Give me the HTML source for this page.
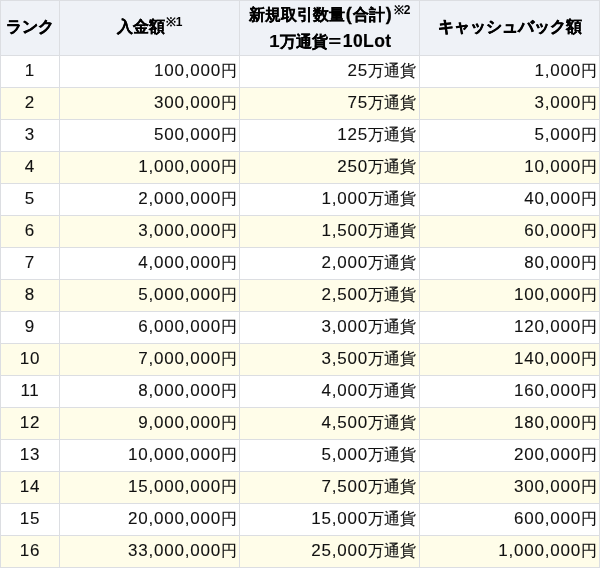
<!DOCTYPE html><html><head><meta charset="utf-8"><style>
html,body{margin:0;padding:0;}
body{width:600px;height:568px;overflow:hidden;position:relative;background:#fff;font-family:"Liberation Sans",sans-serif;}
.r{position:absolute;left:0;width:600px;}
.c{position:absolute;display:flex;align-items:center;white-space:nowrap;will-change:transform;}
.h{font-weight:bold;color:#000;font-size:16px;justify-content:center;text-align:center;}
.b{color:#111;-webkit-text-stroke:0.1px;}
.b .n{font-size:17px;letter-spacing:0.8px;position:relative;top:-1px;}
.b .j{font-size:15.5px;}
.b .yen{margin-right:-1px;font-size:16px;}
.ctr{justify-content:center;}
.rt{justify-content:flex-end;}
.vl{position:absolute;top:0;width:1px;height:568px;background:#dcdee2;}
.hl{position:absolute;left:0;height:1px;width:600px;background:#dcdee2;}
.hj{-webkit-text-stroke:0.2px;}
.hk{-webkit-text-stroke:0.5px;}
.hp{margin:0 1px;font-size:18px;display:inline-block;transform:scaleY(1.0);-webkit-text-stroke:0.3px;}
.hn{letter-spacing:0.4px;font-size:17.5px;-webkit-text-stroke:0.2px;}
.hn1{display:inline-block;transform:scaleX(1.2);margin:0 2px 0 0;}
.heq{display:inline-block;transform:scaleX(1.4);margin:0 3px 0 2px;}
.sup{font-size:12px;position:relative;top:-6px;margin-left:1px;}

</style></head><body>
<div class="r" style="top:0;height:55px;background:#eff2f7"></div>
<div class="r" style="top:56px;height:31px;background:#ffffff"></div>
<div class="r" style="top:88px;height:31px;background:#fffde9"></div>
<div class="r" style="top:120px;height:31px;background:#ffffff"></div>
<div class="r" style="top:152px;height:31px;background:#fffde9"></div>
<div class="r" style="top:184px;height:31px;background:#ffffff"></div>
<div class="r" style="top:216px;height:31px;background:#fffde9"></div>
<div class="r" style="top:248px;height:31px;background:#ffffff"></div>
<div class="r" style="top:280px;height:31px;background:#fffde9"></div>
<div class="r" style="top:312px;height:31px;background:#ffffff"></div>
<div class="r" style="top:344px;height:31px;background:#fffde9"></div>
<div class="r" style="top:376px;height:31px;background:#ffffff"></div>
<div class="r" style="top:408px;height:31px;background:#fffde9"></div>
<div class="r" style="top:440px;height:31px;background:#ffffff"></div>
<div class="r" style="top:472px;height:31px;background:#fffde9"></div>
<div class="r" style="top:504px;height:31px;background:#ffffff"></div>
<div class="r" style="top:536px;height:31px;background:#fffde9"></div>
<div class="vl" style="left:0px"></div>
<div class="vl" style="left:59px"></div>
<div class="vl" style="left:239px"></div>
<div class="vl" style="left:419px"></div>
<div class="vl" style="left:599px"></div>
<div class="hl" style="top:0px"></div>
<div class="hl" style="top:55px"></div>
<div class="hl" style="top:87px"></div>
<div class="hl" style="top:119px"></div>
<div class="hl" style="top:151px"></div>
<div class="hl" style="top:183px"></div>
<div class="hl" style="top:215px"></div>
<div class="hl" style="top:247px"></div>
<div class="hl" style="top:279px"></div>
<div class="hl" style="top:311px"></div>
<div class="hl" style="top:343px"></div>
<div class="hl" style="top:375px"></div>
<div class="hl" style="top:407px"></div>
<div class="hl" style="top:439px"></div>
<div class="hl" style="top:471px"></div>
<div class="hl" style="top:503px"></div>
<div class="hl" style="top:535px"></div>
<div class="hl" style="top:567px"></div>
<div class="c h" style="left:1px;top:0px;width:58px;height:54px"><span class="hk">ランク</span></div>
<div class="c h" style="left:60px;top:0px;width:179px;height:54px"><span class="hj">入金額</span><span class="sup">※1</span></div>
<div class="c h" style="left:240px;top:1px;width:179px;height:54px"><div style="line-height:26px"><span class="hj">新規取引数量</span><span class="hp">(</span><span class="hj">合計</span><span class="hp">)</span><span class="sup">※2</span><br><span style="position:relative;left:1px;top:-1px"><span class="hn1">1</span><span class="hj">万通貨</span><span class="heq">=</span><span class="hn">10Lot</span></span></div></div>
<div class="c h" style="left:420px;top:0px;width:179px;height:54px"><span class="hk">キャッシュバック</span><span class="hj">額</span></div>
<div class="c b ctr" style="left:1px;top:56px;width:58px;height:31px"><span class="n">1</span></div>
<div class="c b rt" style="left:60px;top:56px;width:179px;height:31px;padding-right:3px;box-sizing:border-box"><span class="n">100,000</span><span class="j yen">円</span></div>
<div class="c b rt" style="left:240px;top:56px;width:179px;height:31px;padding-right:3px;box-sizing:border-box"><span class="n">25</span><span class="j">万通貨</span></div>
<div class="c b rt" style="left:420px;top:56px;width:179px;height:31px;padding-right:3px;box-sizing:border-box"><span class="n">1,000</span><span class="j yen">円</span></div>
<div class="c b ctr" style="left:1px;top:88px;width:58px;height:31px"><span class="n">2</span></div>
<div class="c b rt" style="left:60px;top:88px;width:179px;height:31px;padding-right:3px;box-sizing:border-box"><span class="n">300,000</span><span class="j yen">円</span></div>
<div class="c b rt" style="left:240px;top:88px;width:179px;height:31px;padding-right:3px;box-sizing:border-box"><span class="n">75</span><span class="j">万通貨</span></div>
<div class="c b rt" style="left:420px;top:88px;width:179px;height:31px;padding-right:3px;box-sizing:border-box"><span class="n">3,000</span><span class="j yen">円</span></div>
<div class="c b ctr" style="left:1px;top:120px;width:58px;height:31px"><span class="n">3</span></div>
<div class="c b rt" style="left:60px;top:120px;width:179px;height:31px;padding-right:3px;box-sizing:border-box"><span class="n">500,000</span><span class="j yen">円</span></div>
<div class="c b rt" style="left:240px;top:120px;width:179px;height:31px;padding-right:3px;box-sizing:border-box"><span class="n">125</span><span class="j">万通貨</span></div>
<div class="c b rt" style="left:420px;top:120px;width:179px;height:31px;padding-right:3px;box-sizing:border-box"><span class="n">5,000</span><span class="j yen">円</span></div>
<div class="c b ctr" style="left:1px;top:152px;width:58px;height:31px"><span class="n">4</span></div>
<div class="c b rt" style="left:60px;top:152px;width:179px;height:31px;padding-right:3px;box-sizing:border-box"><span class="n">1,000,000</span><span class="j yen">円</span></div>
<div class="c b rt" style="left:240px;top:152px;width:179px;height:31px;padding-right:3px;box-sizing:border-box"><span class="n">250</span><span class="j">万通貨</span></div>
<div class="c b rt" style="left:420px;top:152px;width:179px;height:31px;padding-right:3px;box-sizing:border-box"><span class="n">10,000</span><span class="j yen">円</span></div>
<div class="c b ctr" style="left:1px;top:184px;width:58px;height:31px"><span class="n">5</span></div>
<div class="c b rt" style="left:60px;top:184px;width:179px;height:31px;padding-right:3px;box-sizing:border-box"><span class="n">2,000,000</span><span class="j yen">円</span></div>
<div class="c b rt" style="left:240px;top:184px;width:179px;height:31px;padding-right:3px;box-sizing:border-box"><span class="n">1,000</span><span class="j">万通貨</span></div>
<div class="c b rt" style="left:420px;top:184px;width:179px;height:31px;padding-right:3px;box-sizing:border-box"><span class="n">40,000</span><span class="j yen">円</span></div>
<div class="c b ctr" style="left:1px;top:216px;width:58px;height:31px"><span class="n">6</span></div>
<div class="c b rt" style="left:60px;top:216px;width:179px;height:31px;padding-right:3px;box-sizing:border-box"><span class="n">3,000,000</span><span class="j yen">円</span></div>
<div class="c b rt" style="left:240px;top:216px;width:179px;height:31px;padding-right:3px;box-sizing:border-box"><span class="n">1,500</span><span class="j">万通貨</span></div>
<div class="c b rt" style="left:420px;top:216px;width:179px;height:31px;padding-right:3px;box-sizing:border-box"><span class="n">60,000</span><span class="j yen">円</span></div>
<div class="c b ctr" style="left:1px;top:248px;width:58px;height:31px"><span class="n">7</span></div>
<div class="c b rt" style="left:60px;top:248px;width:179px;height:31px;padding-right:3px;box-sizing:border-box"><span class="n">4,000,000</span><span class="j yen">円</span></div>
<div class="c b rt" style="left:240px;top:248px;width:179px;height:31px;padding-right:3px;box-sizing:border-box"><span class="n">2,000</span><span class="j">万通貨</span></div>
<div class="c b rt" style="left:420px;top:248px;width:179px;height:31px;padding-right:3px;box-sizing:border-box"><span class="n">80,000</span><span class="j yen">円</span></div>
<div class="c b ctr" style="left:1px;top:280px;width:58px;height:31px"><span class="n">8</span></div>
<div class="c b rt" style="left:60px;top:280px;width:179px;height:31px;padding-right:3px;box-sizing:border-box"><span class="n">5,000,000</span><span class="j yen">円</span></div>
<div class="c b rt" style="left:240px;top:280px;width:179px;height:31px;padding-right:3px;box-sizing:border-box"><span class="n">2,500</span><span class="j">万通貨</span></div>
<div class="c b rt" style="left:420px;top:280px;width:179px;height:31px;padding-right:3px;box-sizing:border-box"><span class="n">100,000</span><span class="j yen">円</span></div>
<div class="c b ctr" style="left:1px;top:312px;width:58px;height:31px"><span class="n">9</span></div>
<div class="c b rt" style="left:60px;top:312px;width:179px;height:31px;padding-right:3px;box-sizing:border-box"><span class="n">6,000,000</span><span class="j yen">円</span></div>
<div class="c b rt" style="left:240px;top:312px;width:179px;height:31px;padding-right:3px;box-sizing:border-box"><span class="n">3,000</span><span class="j">万通貨</span></div>
<div class="c b rt" style="left:420px;top:312px;width:179px;height:31px;padding-right:3px;box-sizing:border-box"><span class="n">120,000</span><span class="j yen">円</span></div>
<div class="c b ctr" style="left:1px;top:344px;width:58px;height:31px"><span class="n">10</span></div>
<div class="c b rt" style="left:60px;top:344px;width:179px;height:31px;padding-right:3px;box-sizing:border-box"><span class="n">7,000,000</span><span class="j yen">円</span></div>
<div class="c b rt" style="left:240px;top:344px;width:179px;height:31px;padding-right:3px;box-sizing:border-box"><span class="n">3,500</span><span class="j">万通貨</span></div>
<div class="c b rt" style="left:420px;top:344px;width:179px;height:31px;padding-right:3px;box-sizing:border-box"><span class="n">140,000</span><span class="j yen">円</span></div>
<div class="c b ctr" style="left:1px;top:376px;width:58px;height:31px"><span class="n">11</span></div>
<div class="c b rt" style="left:60px;top:376px;width:179px;height:31px;padding-right:3px;box-sizing:border-box"><span class="n">8,000,000</span><span class="j yen">円</span></div>
<div class="c b rt" style="left:240px;top:376px;width:179px;height:31px;padding-right:3px;box-sizing:border-box"><span class="n">4,000</span><span class="j">万通貨</span></div>
<div class="c b rt" style="left:420px;top:376px;width:179px;height:31px;padding-right:3px;box-sizing:border-box"><span class="n">160,000</span><span class="j yen">円</span></div>
<div class="c b ctr" style="left:1px;top:408px;width:58px;height:31px"><span class="n">12</span></div>
<div class="c b rt" style="left:60px;top:408px;width:179px;height:31px;padding-right:3px;box-sizing:border-box"><span class="n">9,000,000</span><span class="j yen">円</span></div>
<div class="c b rt" style="left:240px;top:408px;width:179px;height:31px;padding-right:3px;box-sizing:border-box"><span class="n">4,500</span><span class="j">万通貨</span></div>
<div class="c b rt" style="left:420px;top:408px;width:179px;height:31px;padding-right:3px;box-sizing:border-box"><span class="n">180,000</span><span class="j yen">円</span></div>
<div class="c b ctr" style="left:1px;top:440px;width:58px;height:31px"><span class="n">13</span></div>
<div class="c b rt" style="left:60px;top:440px;width:179px;height:31px;padding-right:3px;box-sizing:border-box"><span class="n">10,000,000</span><span class="j yen">円</span></div>
<div class="c b rt" style="left:240px;top:440px;width:179px;height:31px;padding-right:3px;box-sizing:border-box"><span class="n">5,000</span><span class="j">万通貨</span></div>
<div class="c b rt" style="left:420px;top:440px;width:179px;height:31px;padding-right:3px;box-sizing:border-box"><span class="n">200,000</span><span class="j yen">円</span></div>
<div class="c b ctr" style="left:1px;top:472px;width:58px;height:31px"><span class="n">14</span></div>
<div class="c b rt" style="left:60px;top:472px;width:179px;height:31px;padding-right:3px;box-sizing:border-box"><span class="n">15,000,000</span><span class="j yen">円</span></div>
<div class="c b rt" style="left:240px;top:472px;width:179px;height:31px;padding-right:3px;box-sizing:border-box"><span class="n">7,500</span><span class="j">万通貨</span></div>
<div class="c b rt" style="left:420px;top:472px;width:179px;height:31px;padding-right:3px;box-sizing:border-box"><span class="n">300,000</span><span class="j yen">円</span></div>
<div class="c b ctr" style="left:1px;top:504px;width:58px;height:31px"><span class="n">15</span></div>
<div class="c b rt" style="left:60px;top:504px;width:179px;height:31px;padding-right:3px;box-sizing:border-box"><span class="n">20,000,000</span><span class="j yen">円</span></div>
<div class="c b rt" style="left:240px;top:504px;width:179px;height:31px;padding-right:3px;box-sizing:border-box"><span class="n">15,000</span><span class="j">万通貨</span></div>
<div class="c b rt" style="left:420px;top:504px;width:179px;height:31px;padding-right:3px;box-sizing:border-box"><span class="n">600,000</span><span class="j yen">円</span></div>
<div class="c b ctr" style="left:1px;top:536px;width:58px;height:31px"><span class="n">16</span></div>
<div class="c b rt" style="left:60px;top:536px;width:179px;height:31px;padding-right:3px;box-sizing:border-box"><span class="n">33,000,000</span><span class="j yen">円</span></div>
<div class="c b rt" style="left:240px;top:536px;width:179px;height:31px;padding-right:3px;box-sizing:border-box"><span class="n">25,000</span><span class="j">万通貨</span></div>
<div class="c b rt" style="left:420px;top:536px;width:179px;height:31px;padding-right:3px;box-sizing:border-box"><span class="n">1,000,000</span><span class="j yen">円</span></div>
</body></html>
